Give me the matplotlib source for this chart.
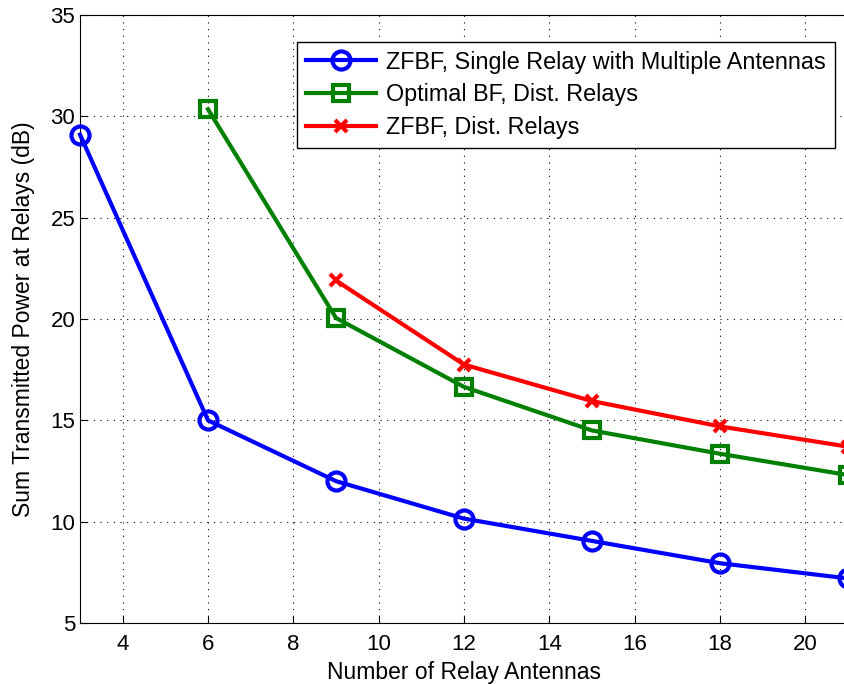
import numpy as np
import matplotlib.pyplot as plt

plt.rcParams['font.family'] = ['Liberation Sans', 'DejaVu Sans']

# data
x_single = [3, 6, 9, 12, 15, 18, 21]
p_single = [29.1, 15.0, 12.0, 10.15, 9.05, 7.95, 7.2]

x_dist = [6, 9, 12, 15, 18, 21]
p_opt = [30.35, 20.05, 16.65, 14.5, 13.35, 12.3]

x_zf = [9, 12, 15, 18, 21]
p_zf = [21.9, 17.75, 15.95, 14.7, 13.7]

labels = ['ZFBF, Single Relay with Multiple Antennas',
          'Optimal BF, Dist. Relays',
          'ZFBF, Dist. Relays']

fig = plt.figure(figsize=(8.45, 6.84), dpi=100)
ax = fig.add_axes([80 / 845, 61 / 684, 768 / 845, 608 / 684])

ax.plot(x_single, p_single, color='#0000ff', lw=3, marker='o', ms=13,
        mfc='none', mew=3, label=labels[0], clip_on=False, zorder=3)
ax.plot(x_dist, p_opt, color='#008000', lw=3, marker='s', ms=11,
        mfc='none', mew=3, label=labels[1], clip_on=False, zorder=3)
ax.plot(x_zf, p_zf, color='#ff0000', lw=3, marker='x', ms=9,
        mew=3, label=labels[2], clip_on=False, zorder=3)

ax.set_xlim(3, 21)
ax.set_ylim(5, 35)
ax.set_xticks(np.arange(4, 21, 2))
ax.set_yticks(np.arange(5, 36, 5))
ax.tick_params(direction='in', labelsize=16, length=5)
ax.tick_params(axis='x', pad=8)
ax.grid(True, color='black', linestyle=(0, (1, 5)), linewidth=0.8)

ax.set_xlabel('Number of Relay Antennas', fontsize=16.5, labelpad=4)
ax.set_ylabel('Sum Transmitted Power at Relays (dB)', fontsize=16.5, labelpad=11)

leg = ax.legend(loc='upper right', bbox_to_anchor=(0.983, 0.956), fontsize=16.8,
                fancybox=False, framealpha=1, edgecolor='black',
                handlelength=3.0, borderpad=0.38, labelspacing=0.42,
                handletextpad=0.45, borderaxespad=0)
leg.get_frame().set_linewidth(1.0)

fig.savefig('out.png', dpi=100)
